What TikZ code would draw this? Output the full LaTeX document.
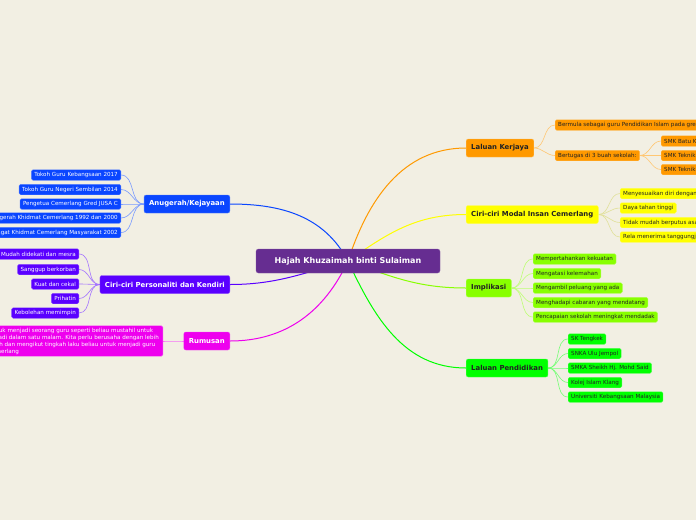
\documentclass[tikz,border=0pt]{standalone}
\usepackage{fontspec}
\setmainfont{DejaVu Sans}
\usepackage{tikz}
\usetikzlibrary{backgrounds}
\definecolor{paper}{HTML}{F2EFE3}
\definecolor{hubcol}{HTML}{662D91}
\definecolor{anugcol}{HTML}{0A46FF}
\definecolor{perscol}{HTML}{5A00FF}
\definecolor{rumcol}{HTML}{EE00EE}
\definecolor{kerjacol}{HTML}{FF9900}
\definecolor{modalcol}{HTML}{FFFF00}
\definecolor{implcol}{HTML}{88FF00}
\definecolor{pendcol}{HTML}{00FF00}
\definecolor{inkdark}{HTML}{222222}

\begin{document}
\begin{tikzpicture}[x=1pt,y=1pt,
    hubbox/.style={rounded corners=2.5pt, fill=hubcol, draw=hubcol!80!white, text=white,
      minimum width=184pt, minimum height=24pt, font=\fontsize{8}{9}\selectfont\bfseries},
    branch/.style={rounded corners=2pt, minimum height=18pt, inner xsep=5pt,
      font=\fontsize{6.9}{8}\selectfont\bfseries},
    leaf/.style={rounded corners=1.5pt, minimum height=10.5pt, inner xsep=3pt, inner ysep=1pt,
      font=\fontsize{5.6}{6}\selectfont},
    link/.style={line width=1pt},
    twig/.style={line width=0.6pt}]
                \useasboundingbox (0,0) rectangle (696,-520);
                \def\lx{230}
                \def\rx{466}
                % centre
                \node[hubbox] (hub) at (348,-261) {Hajah Khuzaimah binti Sulaiman};
                % left branches
                \node[branch, fill=anugcol, draw=anugcol!70!white, text=white, anchor=east] (anug) at (\lx,-204) {Anugerah/Kejayaan};
                \node[branch, fill=perscol, draw=perscol!70!white, text=white, anchor=east] (pers) at (\lx,-284.5) {Ciri-ciri Personaliti dan Kendiri};
                \node[branch, fill=rumcol, draw=rumcol!70!white, text=white, anchor=east] (rum) at (\lx,-341) {Rumusan};
                % right branches
                \node[branch, fill=kerjacol, draw=kerjacol!70!white, text=inkdark, anchor=west] (kerja) at (\rx,-148) {Laluan Kerjaya};
                \node[branch, fill=modalcol, draw=modalcol!70!white, text=inkdark, anchor=west] (modal) at (\rx,-214.5) {Ciri-ciri Modal Insan Cemerlang};
                \node[branch, fill=implcol, draw=implcol!70!white, text=inkdark, anchor=west] (impl) at (\rx,-288) {Implikasi};
                \node[branch, fill=pendcol, draw=pendcol!70!white, text=inkdark, anchor=west] (pend) at (\rx,-368) {Laluan Pendidikan};
                % anugerah
                \node[leaf, fill=anugcol, draw=anugcol!70!white, text=white, anchor=east] (a1) at (121,-175) {Tokoh Guru Kebangsaan 2017};
                \node[leaf, fill=anugcol, draw=anugcol!70!white, text=white, anchor=east] (a2) at (121,-189.5) {Tokoh Guru Negeri Sembilan 2014};
                \node[leaf, fill=anugcol, draw=anugcol!70!white, text=white, anchor=east] (a3) at (121,-204) {Pengetua Cemerlang Gred JUSA C};
                \node[leaf, fill=anugcol, draw=anugcol!70!white, text=white, anchor=east] (a4) at (121,-218) {Anugerah Khidmat Cemerlang 1992 dan 2000};
                \node[leaf, fill=anugcol, draw=anugcol!70!white, text=white, anchor=east] (a5) at (121,-232.5) {Pingat Khidmat Cemerlang Masyarakat 2002};
                % personaliti
                \node[leaf, fill=perscol, draw=perscol!70!white, text=white, anchor=east] (p1) at (79,-254) {Mudah didekati dan mesra};
                \node[leaf, fill=perscol, draw=perscol!70!white, text=white, anchor=east] (p2) at (79,-269.5) {Sanggup berkorban};
                \node[leaf, fill=perscol, draw=perscol!70!white, text=white, anchor=east] (p3) at (79,-284) {Kuat dan cekal};
                \node[leaf, fill=perscol, draw=perscol!70!white, text=white, anchor=east] (p4) at (79,-298.5) {Prihatin};
                \node[leaf, fill=perscol, draw=perscol!70!white, text=white, anchor=east] (p5) at (79,-313) {Kebolehan memimpin};
                % rumusan
                \node[leaf, fill=rumcol, draw=rumcol!70!white, text=white, anchor=east, align=left, inner xsep=4pt, inner ysep=2pt,
                  font=\fontsize{5.6}{7}\selectfont] (r1) at (163,-341)
                  {Untuk menjadi seorang guru seperti beliau mustahil untuk\\terjadi dalam satu malam. Kita perlu berusaha dengan lebih\\gigih dan mengikut tingkah laku beliau untuk menjadi guru\\cemerlang};
                % kerjaya
                \node[leaf, fill=kerjacol, draw=kerjacol!70!white, text=inkdark, anchor=west] (k1) at (555,-125) {Bermula sebagai guru Pendidikan Islam pada gred DG41};
                \node[leaf, fill=kerjacol, draw=kerjacol!70!white, text=inkdark, anchor=west] (k2) at (555,-155.5) {Bertugas di 3 buah sekolah:};
                \node[leaf, fill=kerjacol, draw=kerjacol!70!white, text=inkdark, anchor=west] (s1) at (661,-141) {SMK Batu Kikir};
                \node[leaf, fill=kerjacol, draw=kerjacol!70!white, text=inkdark, anchor=west] (s2) at (661,-155.5) {SMK Teknik Kuala Pilah};
                \node[leaf, fill=kerjacol, draw=kerjacol!70!white, text=inkdark, anchor=west] (s3) at (661,-169.5) {SMK Teknik Nilai};
                % modal insan
                \node[leaf, fill=modalcol, draw=modalcol!70!white, text=inkdark, anchor=west] (m1) at (620,-193.5) {Menyesuaikan diri dengan persekitaran};
                \node[leaf, fill=modalcol, draw=modalcol!70!white, text=inkdark, anchor=west] (m2) at (620,-208) {Daya tahan tinggi};
                \node[leaf, fill=modalcol, draw=modalcol!70!white, text=inkdark, anchor=west] (m3) at (620,-222.5) {Tidak mudah berputus asa};
                \node[leaf, fill=modalcol, draw=modalcol!70!white, text=inkdark, anchor=west] (m4) at (620,-237) {Rela menerima tanggungjawab};
                % implikasi
                \node[leaf, fill=implcol, draw=implcol!70!white, text=inkdark, anchor=west] (i1) at (533,-259) {Mempertahankan kekuatan};
                \node[leaf, fill=implcol, draw=implcol!70!white, text=inkdark, anchor=west] (i2) at (533,-273.5) {Mengatasi kelemahan};
                \node[leaf, fill=implcol, draw=implcol!70!white, text=inkdark, anchor=west] (i3) at (533,-288) {Mengambil peluang yang ada};
                \node[leaf, fill=implcol, draw=implcol!70!white, text=inkdark, anchor=west] (i4) at (533,-302.5) {Menghadapi cabaran yang mendatang};
                \node[leaf, fill=implcol, draw=implcol!70!white, text=inkdark, anchor=west] (i5) at (533,-317) {Pencapaian sekolah meningkat mendadak};
                % pendidikan
                \node[leaf, fill=pendcol, draw=pendcol!70!white, text=inkdark, anchor=west] (e1) at (568,-339) {SK Tengkek};
                \node[leaf, fill=pendcol, draw=pendcol!70!white, text=inkdark, anchor=west] (e2) at (568,-353.5) {SNKA Ulu Jempol};
                \node[leaf, fill=pendcol, draw=pendcol!70!white, text=inkdark, anchor=west] (e3) at (568,-368) {SMKA Sheikh Hj. Mohd Said};
                \node[leaf, fill=pendcol, draw=pendcol!70!white, text=inkdark, anchor=west] (e4) at (568,-382.5) {Kolej Islam Klang};
                \node[leaf, fill=pendcol, draw=pendcol!70!white, text=inkdark, anchor=west] (e5) at (568,-397) {Universiti Kebangsaan Malaysia};
                \begin{scope}[on background layer]
                \fill[paper] (0,0) rectangle (696,-520);
                % main links
                \draw[link, anugcol] (hub.center) to[out=118, in=0] (anug.east);
                \draw[link, perscol] (hub.center) to[out=195, in=0] (pers.east);
                \draw[link, rumcol] (hub.center) to[out=245, in=0] (rum.east);
                \draw[link, kerjacol] (hub.center) to[out=72, in=180] (kerja.west);
                \draw[link, modalcol] (hub.center) to[out=35, in=180] (modal.west);
                \draw[link, implcol] (hub.center) to[out=-20, in=180] (impl.west);
                \draw[link, pendcol] (hub.center) to[out=-65, in=180] (pend.west);
                % twigs
                \draw[twig, anugcol!55] (anug.west) to[out=180, in=0] (a1.east);
                \draw[twig, anugcol!55] (anug.west) to[out=180, in=0] (a2.east);
                \draw[twig, anugcol!55] (anug.west) to[out=180, in=0] (a3.east);
                \draw[twig, anugcol!55] (anug.west) to[out=180, in=0] (a4.east);
                \draw[twig, anugcol!55] (anug.west) to[out=180, in=0] (a5.east);
                \draw[twig, perscol!55] (pers.west) to[out=180, in=0] (p1.east);
                \draw[twig, perscol!55] (pers.west) to[out=180, in=0] (p2.east);
                \draw[twig, perscol!55] (pers.west) to[out=180, in=0] (p3.east);
                \draw[twig, perscol!55] (pers.west) to[out=180, in=0] (p4.east);
                \draw[twig, perscol!55] (pers.west) to[out=180, in=0] (p5.east);
                \draw[twig, rumcol!55] (rum.west) to[out=180, in=0] (r1.east);
                \draw[twig, kerjacol!55] (kerja.east) to[out=0, in=180] (k1.west);
                \draw[twig, kerjacol!55] (kerja.east) to[out=0, in=180] (k2.west);
                \draw[twig, kerjacol!55] (k2.east) to[out=0, in=180] (s1.west);
                \draw[twig, kerjacol!55] (k2.east) to[out=0, in=180] (s2.west);
                \draw[twig, kerjacol!55] (k2.east) to[out=0, in=180] (s3.west);
                \draw[twig, modalcol!70!black!40!white] (modal.east) to[out=0, in=180] (m1.west);
                \draw[twig, modalcol!70!black!40!white] (modal.east) to[out=0, in=180] (m2.west);
                \draw[twig, modalcol!70!black!40!white] (modal.east) to[out=0, in=180] (m3.west);
                \draw[twig, modalcol!70!black!40!white] (modal.east) to[out=0, in=180] (m4.west);
                \draw[twig, implcol!55] (impl.east) to[out=0, in=180] (i1.west);
                \draw[twig, implcol!55] (impl.east) to[out=0, in=180] (i2.west);
                \draw[twig, implcol!55] (impl.east) to[out=0, in=180] (i3.west);
                \draw[twig, implcol!55] (impl.east) to[out=0, in=180] (i4.west);
                \draw[twig, implcol!55] (impl.east) to[out=0, in=180] (i5.west);
                \draw[twig, pendcol!55] (pend.east) to[out=0, in=180] (e1.west);
                \draw[twig, pendcol!55] (pend.east) to[out=0, in=180] (e2.west);
                \draw[twig, pendcol!55] (pend.east) to[out=0, in=180] (e3.west);
                \draw[twig, pendcol!55] (pend.east) to[out=0, in=180] (e4.west);
                \draw[twig, pendcol!55] (pend.east) to[out=0, in=180] (e5.west);
                \end{scope}
            \end{tikzpicture}
\end{document}
